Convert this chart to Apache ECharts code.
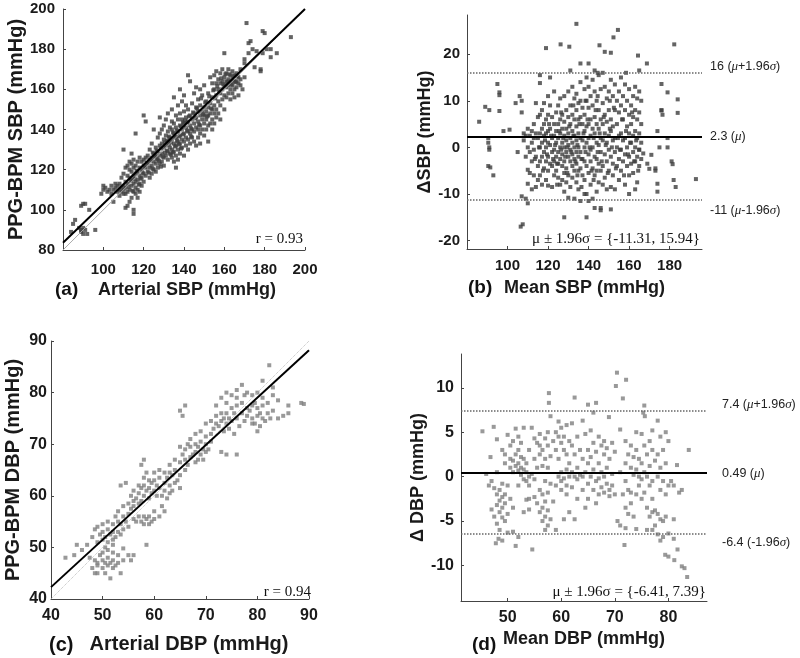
<!DOCTYPE html>
<html><head><meta charset="utf-8">
<script src="https://cdn.jsdelivr.net/npm/echarts@6/dist/echarts.min.js"></script>
<style>html,body{margin:0;padding:0;background:#fff}#c{width:800px;height:658px}</style>
</head><body><div id="c"></div>
<script>
// ---------- DATA ----------
const sbpScatter = [
[84,89],[85,93],[86,95],[88,91],[89,90],[89,89],[90,91],[90,88],[91,90],[92,88],[89,102],[90,103],[91,103],[93,100],[96,90],
[99,108],[100,110],[100,112],[101,111],[102,109],[103,110],[104,112],[104,108],[105,104],[105,110],[106,113],[106,111],[107,109],[107,112],[108,110],[108,113],[108,107],[109,111],[109,109],[109,116],[110,108],[110,110],[110,112],[110,118],[110,130],
[111,101],[111,108],[111,111],[111,114],[111,121],[112,102],[112,109],[112,113],[112,117],[112,122],[113,104],[113,110],[113,116],[113,120],[113,124],[114,106],[114,112],[114,115],[114,119],[114,123],[114,128],[115,98],[115,100],[115,109],[115,113],[115,117],[115,121],[115,125],[116,108],[116,111],[116,114],[116,118],[116,122],[116,138],[117,106],[117,110],[117,115],[117,119],[117,124],[118,109],[118,113],[118,117],[118,121],[118,126],[119,112],[119,116],[119,120],[119,124],[120,114],[120,118],[120,122],[120,125],[120,147],[121,144],
[121,117],[121,121],[121,126],[122,119],[122,123],[122,127],[123,116],[123,121],[123,125],[123,130],[124,118],[124,122],[124,126],[124,133],[125,120],[125,124],[125,128],[125,140],[126,119],[126,123],[126,127],[126,131],[127,121],[127,125],[127,129],[127,136],[128,123],[128,127],[128,132],[128,138],[128,146],[129,124],[129,128],[129,133],[129,140],[130,122],[130,126],[130,131],[130,135],[130,142],
[131,127],[131,132],[131,137],[131,145],[132,125],[132,129],[132,134],[132,139],[132,148],[133,128],[133,131],[133,136],[133,141],[134,126],[134,130],[134,135],[134,140],[134,144],[134,150],[135,124],[135,129],[135,133],[135,138],[135,143],[135,156],[136,121],[136,127],[136,132],[136,136],[136,141],[136,147],[137,125],[137,130],[137,134],[137,139],[137,145],[137,152],[138,128],[138,133],[138,137],[138,142],[138,148],[138,160],[139,131],[139,135],[139,140],[139,145],[139,154],[140,127],[140,134],[140,138],[140,143],[140,149],[140,157],
[141,132],[141,136],[141,141],[141,146],[141,152],[142,130],[142,135],[142,139],[142,144],[142,150],[142,167],[143,133],[143,138],[143,142],[143,147],[143,164],[144,136],[144,140],[144,145],[144,153],[145,134],[145,139],[145,143],[145,148],[145,158],[146,132],[146,141],[146,146],[146,151],[146,161],[147,136],[147,140],[147,144],[147,149],[147,155],[148,133],[148,138],[148,142],[148,147],[148,152],[148,160],[149,140],[149,145],[149,149],[149,157],[150,137],[150,143],[150,147],[150,151],[150,162],
[151,140],[151,145],[151,149],[151,154],[152,134],[152,142],[152,147],[152,151],[152,158],[153,143],[153,148],[153,153],[153,166],[154,140],[154,145],[154,150],[154,156],[154,163],[155,143],[155,148],[155,152],[155,160],[155,167],[156,146],[156,150],[156,157],[156,163],[156,169],[157,148],[157,154],[157,160],[157,165],[158,145],[158,152],[158,158],[158,163],[158,168],[159,155],[159,160],[159,164],[159,170],[160,150],[160,157],[160,162],[160,166],[160,178],
[161,156],[161,161],[161,164],[161,168],[162,158],[162,162],[162,165],[162,170],[163,155],[163,160],[163,164],[163,167],[164,158],[164,162],[164,165],[164,169],[165,156],[165,160],[165,164],[165,167],[166,161],[166,164],[166,168],[167,157],[167,163],[167,166],[168,162],[168,165],[168,170],[169,160],[170,166],[170,175],[170,173],
[171,193],[172,183],[172,178],[173,184],[174,180],[175,171],[176,179],[178,170],[178,169],[179,178],[179,189],[180,188],[181,180],[183,176],[183,180],[186,178],[193,186],
[112.5,111.5],[113.5,114.5],[114.5,109.5],[115.5,115.5],[116.5,119.5],[117.5,112.5],[118.5,115.5],[119.5,118.5],[120.5,121.5],[121.5,123.5],[122.5,118.5],[123.5,124.5],[124.5,120.5],[125.5,126.5],[126.5,129.5],[127.5,124.5],[128.5,130.5],[129.5,126.5],[130.5,133.5],[131.5,129.5],[132.5,136.5],[133.5,133.5],[134.5,138.5],[135.5,131.5],[136.5,139.5],[137.5,136.5],[138.5,141.5],[139.5,137.5],[140.5,144.5],[141.5,139.5],[142.5,146.5],[143.5,140.5],[144.5,148.5],[145.5,145.5],[146.5,150.5],[147.5,142.5],[148.5,155.5],[149.5,147.5],[150.5,153.5],[151.5,146.5],[152.5,156.5],[153.5,150.5],[154.5,159.5],[155.5,155.5],[156.5,161.5],[157.5,158.5],[158.5,165.5],[159.5,162.5],[160.5,167.5],[161.5,163.5],[162.5,167.5],[163.5,162.5],[164.5,166.5],[165.5,163.5],[166.5,166.5],[131.5,134.5],[133.5,127.5],[135.5,136.5],[137.5,132.5],[139.5,143.5],[128.5,121.5],[126.5,125.5],[124.5,128.5],[141.5,143.5],[143.5,136.5],[130.5,128.5],[132.5,132.5],[134.5,128.5],[136.5,134.5],[138.5,130.5]
];
const sbpBA = [
[86,5.5],[89,8.7],[91,8],[95,13.6],[96,11.8],[96,11.2],[96,7.8],[90.5,1],[91,0],[91,-0.5],[90.5,2],[90.5,-4],[91.5,-4.3],[93,-6],[98,3.5],[101,3.8],[104,9.5],[106,11],[107,10],[107,7.5],[107,-10.5],[109,-11],[110,-12],[106.5,-17],[107.5,-16.5],[105,-1],
[134,26.5],[154.5,25.2],[152.3,23.6],[182.3,22.1],[126.2,22.1],[119,21.3],[130.5,21.6],[145.4,21.9],[148,20.5],[151,20.3],[164.4,19.7],[168.8,18],[136,18],[140,18],[143,16.5],[144.5,16],[158.5,16],[165,16.5],[131,16.5],[116,15.5],[121,15],[176,13.6],[179,11.8],[176,8],[184,10.3],[184,7.4],[128,-15],[139,-15],[143,-13],[146,-13.5],[151,-13.3],[193,-6.8],[182,-7],[183,-8.5],[174,-7.8],[174,-9.5],[179,2],[179,0],[181,-3],[181.5,-3.6],[173,-4.5],[173,-5],[175,0],[174,3.5],[176,7.9],[176.5,7],[165,-0.5],[167,-1.3],[160,-10],[163,-9],[164,-7.5],[170,-4.6],[169,-3.5],[171,-1.6],
[108,3],[108,1.5],[109,2.5],[109,-2],[110,4],[110,0],[110,-4.8],[110,-7.8],[111,2.5],[111,-1],[111,-5.5],[112,3.5],[112,1],[112,-3],[112,-9],[113,5],[113,2],[113,-0.5],[113,-6],[114,9.5],[114,3],[114,-2],[114,-8.5],[115,6.5],[115,2],[115,-4],[115,-7],
[116,13.8],[116,7],[116,3],[116,0],[116,-3],[116,-6],[117,8],[117,4],[117,1],[117,-2],[117,-8],[118,9.5],[118,5],[118,2.5],[118,-1],[118,-4.5],[119,6],[119,3],[119,0],[119,-3],[119,-7],[120,11],[120,7],[120,3.5],[120,1],[120,-2],[120,-5],[120,-8.2],[121,9],[121,4],[121,0.5],[121,-3.5],[122,6.5],[122,2],[122,-1],[122,-4],[122,-8.5],
[123,12],[123,5],[123,2.5],[123,-0.5],[123,-3],[123,-6],[124,7.5],[124,3.5],[124,1],[124,-2],[124,-5],[125,9],[125,5],[125,2],[125,-1],[125,-3.5],[125,-6.5],[126,10.5],[126,6],[126,3],[126,0],[126,-2.5],[126,-8],[127,7],[127,4],[127,1],[127,-1.5],[127,-4],[127,-7],[128,11],[128,5.5],[128,2.5],[128,0],[128,-3],[128,-5.5],[128,-9.5],[129,8],[129,4],[129,1.5],[129,-1],[129,-4.5],[129,-7.5],[130,12],[130,6.5],[130,3],[130,0.5],[130,-2],[130,-6],[130,-10.8],
[131,9],[131,5],[131,2],[131,-0.5],[131,-3],[131,-8.5],[132,13],[132,7],[132,3.5],[132,1],[132,-1.5],[132,-4],[132,-6.5],[133,10.5],[133,6],[133,2.5],[133,0],[133,-2.5],[133,-5],[133,-11],[134,11.5],[134,8],[134,4.5],[134,1.5],[134,-1],[134,-3.5],[134,-7.5],[135,9.5],[135,6],[135,3],[135,0],[135,-2],[135,-5],[135,-9],[136,14],[136,10],[136,6.5],[136,2],[136,-1],[136,-4.5],[136,-11.5],[137,8.5],[137,5],[137,1.5],[137,-2.5],[137,-6],[138,12.5],[138,7],[138,3.5],[138,0],[138,-3],[138,-7],[138,-10],
[139,15],[139,10],[139,4.5],[139,1],[139,-4],[139,-10],[140,13],[140,8.5],[140,5],[140,2],[140,-1.5],[140,-5.5],[140,-11.5],[141,11],[141,6],[141,2.5],[141,-0.5],[141,-3],[141,-8],[142,14.5],[142,9],[142,4],[142,0],[142,-4.5],[142,-11],[143,12],[143,6.5],[143,3],[143,-2],[143,-6],[144,10],[144,5],[144,1],[144,-2.5],[144,-5],[144,-9.5],[145,15.5],[145,8],[145,4],[145,0.5],[145,-3.5],[145,-7.5],[146,12.5],[146,6],[146,2],[146,-1],[146,-5],[146,-13],
[147,16],[147,9.5],[147,5],[147,1.5],[147,-4],[147,-8],[148,13],[148,7],[148,3],[148,-1.5],[148,-6.5],[149,10.5],[149,5.5],[149,1],[149,-3],[149,-9],[150,12],[150,8],[150,2.5],[150,-0.5],[150,-5],[151,14.5],[151,6],[151,3.5],[151,-2],[151,-8.5],[152,11],[152,4.5],[152,1.5],[152,-3.5],[152,-6],[153,13.5],[153,8],[153,2],[153,-1],[153,-9],[154,10],[154,5],[154,0],[154,-4],[155,12],[155,7.5],[155,2.5],[155,-2.5],[155,-7],
[156,15],[156,9],[156,3],[156,-0.5],[156,-5],[157,11],[157,6],[157,1.5],[157,-3],[158,13.5],[158,8],[158,2],[158,-1.5],[158,-8],[159,10],[159,4.5],[159,0],[159,-4],[160,12.5],[160,7],[160,3],[160,-2],[160,-6],[161,9],[161,5],[161,1],[161,-3.5],[162,11],[162,6.5],[162,2.5],[162,-1],[162,-5.5],[163,13],[163,8],[163,3.5],[163,0],[163,-3],[164,10.5],[164,6],[164,2],[164,-2],[165,12],[165,7.5],[165,3],[165,-0.5],[165,-4],[166,10],[166,5],[166,1],[166,-2.5],
[118.5,1.5],[119.5,-1.5],[121.5,2.5],[122.5,-2.5],[123.5,0.5],[124.5,-3.5],[125.5,3.5],[126.5,-0.5],[127.5,2],[128.5,-2],[129.5,0],[130.5,4.5],[131.5,-1],[132.5,2.5],[133.5,-3],[134.5,0.5],[135.5,5],[136.5,-2.5],[137.5,3],[138.5,-1],[139.5,6],[140.5,0],[141.5,-5],[142.5,2],[143.5,8],[144.5,-1],[145.5,3],[146.5,-3],[147.5,6.5],[148.5,0.5],[149.5,-5.5],[150.5,4],[151.5,0],[152.5,8.5],[153.5,-4.5],[154.5,2],[155.5,-0.5],[156.5,6],[157.5,-6],[158.5,3.5],[159.5,-1.5],[160.5,1],[161.5,7.5],[162.5,-3],[163.5,1.5],[164.5,-5],[120.5,5],[126.5,7.5],[132.5,9],[138.5,10],[144.5,11],[150.5,10],[134.5,-6],[129.5,-5.5],[124.5,-8],[136.5,-8.5],[142.5,-7],[113.5,-2.5],[115.5,0],[117.5,-5]
];
const dbpScatter = [
[42.8,48],[44.5,48.5],[45,50.5],[46,49.5],[47,50.5],[47.5,48],[48,46],[48.5,45],[49,45],[58.5,50.5],[82.3,85.3],[88.5,78],[89,77.8],[86,77.5],[86,76],[85,75.5],[81,82.3],[83,81],[84,78.5],[80,72.5],[79,74],[76,68],[74,68],[73,68.5],[66,77.5],[65,76.5],[65.5,75.5],[58,67],[54.5,62.5],[53.5,62],[57.5,66],[63,64.5],
[49,47],[49.5,48.5],[50,46],[50,47.5],[50,49],[50.5,45],[50.5,47],[51,46.5],[51,48],[51,49.5],[51.5,44],[51.5,47],[52,46],[52,47.5],[52,49],[52.5,46.5],[53,47],[53,48.5],[53.5,45],[54,47.5],[55,48.5],[55.5,47.5],[56,48.5],[50.5,50],[52,50.5],[54,49.8],[49,46.5],[48.5,47.5],
[48,52],[48.5,53.5],[49,51],[49,54],[49.5,52.5],[50,51.5],[50,53],[50,54.5],[50.5,52],[51,51],[51,53.5],[51,55],[51.5,52.5],[52,51.5],[52,53],[52,54.5],[52.5,52],[52.5,56],[53,53],[53,55],[53,57],[53.5,52.5],[53.5,54.5],[54,53.5],[54,56],[54,58],[54.5,55],[55,54],[55,56.5],[55,58.5],[55.5,57.5],[56,55.5],[56,59],
[55.5,60],[56,58],[56,61],[56.5,59.5],[57,58.5],[57,60.5],[57,62],[57.5,59],[57.5,61.5],[58,60],[58,62],[58,63.5],[58.5,61],[58.5,64.5],[59,59.5],[59,61.5],[59,63],[59.5,60.5],[59.5,62.5],[60,61],[60,63],[60,64.5],[60.5,60],[60.5,62],[61,61.5],[61,63.5],[61,65],
[56.5,55],[57,56],[57.5,55],[58,54.5],[58,56],[58.5,55.5],[59,54.5],[59,56],[59.5,55],[60,55.5],[60,57],[61,56],[61.5,58],[62,57],
[61.5,60],[62,61],[62,62.5],[62,64.5],[62.5,59.5],[62.5,63.5],[63,60.5],[63,62],[63,66],[63.5,61],[63.5,64],[64,62.5],[64,65],[64,67],[64.5,63],[65,61.5],[65,64],[65,66.5],[65,69.5],[65.5,68],[66,65],[66,67],[66,69],[66.5,70],
[66.5,66],[67,67.5],[67,69.5],[67,71],[67.5,68],[68,66.5],[68,68.5],[68,70],[68,72],[68.5,67],[68.5,69.5],[69,68],[69,70.5],[69,72.5],[69.5,67],[69.5,69],[70,68.5],[70,70],[70,71.5],[70,74],[70.5,69],[71,70.5],[71,72],[71,74.5],
[71.5,73],[72,74],[72,75.5],[72,77.5],[72.5,73.5],[73,74.5],[73,76],[73,79],[73.5,72.5],[73.5,75],[74,74],[74,76],[74,78],[74,80],[74.5,75],[74.5,73],[75,74.5],[75,77],[75,79.5],[75.5,72],[75.5,76],[76,75],[76,77.5],[76,79],[76,80.5],[76.5,73.5],[77,76],[77,78],[77,81.5],[77.5,74.5],[77.5,79.5],[78,77],[78,80],[78,75.5],
[78.5,76.5],[79,75],[79,77.5],[79,79.5],[79.5,74],[79.5,78],[80,75.5],[80,77],[80,80],[80.5,73.5],[80.5,76],[81,75],[81,77.5],[81,79],[81.5,74.5],[82,76],[82,78],[82.5,75],[83,76.5],[83,79.5],[84,75]
];
const dbpBA = [
[70.4,11.7],[72.1,10.9],[70.2,10.2],[71.5,8.8],[57.7,9.4],[57.7,8.3],[62.5,8.9],[65,8.1],[66.5,8.3],[68.9,6.7],[75.5,8],[75.3,7.2],[75.6,6.8],[45.3,5.1],[47.4,5.6],[46.8,2.2],[54.6,-8.2],[51.5,-7.8],[47.8,-7.5],[48.3,-7],[79.4,-8.8],[80,-9],[81.1,-9.4],[81.7,-8.2],[82.5,-10.1],[83,-10.3],[83.5,-11.3],[83.8,3],[81.6,1.3],[71.8,-7.7],[70.5,-5],[71,-5.5],
[46,0.3],[46.5,-1],[47,-0.5],[47,-3.7],[47.5,-1.3],[47.5,-4.5],[48,0.5],[48,-2],[48,-3.2],[48,-5.3],[48.5,-1.5],[48.5,-2.7],[48.5,-4],[48.5,-6],[49,-0.8],[49,-2.3],[49,-3.5],[49,-4.6],[49,3],[49.5,-2],[49.5,-3],[49.5,-5],[49.5,1.5],[50,-1],[50,-4.2],[50,-6.3],[50,4.7],[49,-7.2],[48,4.2],[49.5,2.5],
[50.5,1],[50.5,2],[50.5,3.5],[51,0.5],[51,1.8],[51,4],[51,-6.2],[51.5,1.2],[51.5,2.5],[51.5,5.4],[52,0.7],[52,1.5],[52,3],[52,4.5],[52,-6.8],[52.5,0.2],[52.5,1],[52.5,2.2],[52.5,3.8],[53,-0.3],[53,0.8],[53,2],[53,5.5],[53.5,-0.5],[53.5,0.5],[53.5,1.5],[53.5,-2.6],[54,0],[54,-1],[54,3],[54,-2.5],[54.5,0.3],[54.5,5.5],[50.5,-2.5],[51,-3.5],[52,-1],[53,-4],[54,-3.7],
[55,4.3],[55,2],[55,-0.3],[55,-2.3],[55.5,3.8],[55.5,1],[55.5,-3],[56,3.5],[56,4.8],[56,2.5],[56,-1.5],[56,-4],[56.5,3],[56.5,1.2],[56.5,-2],[56.5,-3.5],[56.5,-5],[57,4.3],[57,2],[57,-0.5],[57,-2.8],[57,-4.5],[57,-6],[57.5,3.5],[57.5,5],[57.5,1],[57.5,-1.8],[57.5,-3.8],[57.5,-5.5],[58,6.8],[58,2.3],[58,-0.8],[58,-4.8],[58.5,4],[58.5,-2.8],[59,5],[59,3],[59,-6],[59,-1],
[59.5,4.5],[59.5,6.2],[59.5,2],[59.5,0],[60,3.8],[60,5.5],[60,0.5],[60,-0.5],[60,-1.5],[60.5,3],[60.5,4.5],[60.5,-0.2],[60.5,-4.8],[61,2.5],[61,5.8],[61,0.8],[61,-1],[61,-2],[61.5,4],[61.5,1.5],[61.5,0],[61.5,-4],[62,3.5],[62,6],[62,0.5],[62,-1.2],[62.5,2.5],[62.5,0],[62.5,-4.8],[63,4.5],[63,1],[63,-0.3],[63,-2.5],[63.5,3],[63.5,0.2],[64,2],[64,6.3],[64,0],[64,-1.5],
[64.5,4.8],[64.5,0.5],[64.5,-3.5],[65,3],[65,1.5],[65,-0.8],[65,-2.5],[65.5,5.2],[65.5,2.2],[65.5,0],[66,3.8],[66,7.2],[66,0.8],[66,-1.5],[66.5,2.8],[66.5,-0.5],[66.5,-3],[67,4.5],[67,1.5],[67,-0.2],[67,-2],[67.5,3.5],[67.5,0.5],[67.5,-1.2],[68,2.5],[68,4],[68,0],[68,-1.8],[68.5,3.2],[68.5,1],[68.5,-0.8],[69,2],[69,-1.5],[69,-2.2],[69.5,3.8],[69.5,0.3],[69.5,-1],[70,2.8],[70,-2],
[71,5.3],[71,0.5],[71.5,-2],[72,4],[72,1.5],[72,-0.5],[72,-3.5],[72,-5.8],[72.5,2.5],[72.5,-1.5],[72.5,-4.2],[73,3.5],[73,1],[73,-1.8],[73,-3],[73.5,2.2],[73.5,0.2],[73.5,-4.5],[74,5],[74,3],[74,0.8],[74,-2],[74,-5.9],[74.5,2],[74.5,0],[74.5,-1],[75,4.8],[75,1.5],[75,-0.3],[75,-2.5],[75.5,3.5],[75.5,0.5],[75.5,-1.8],[76,2.5],[76,0],[76,-3.5],[76,-6],
[76.5,4],[76.5,1.2],[76.5,-1],[76.5,-4.5],[77,5.2],[77,3],[77,-0.5],[77,-2.5],[77,-4],[77,-6],[77.5,1.8],[77.5,-3.8],[77.5,-5.5],[78,6.3],[78,2.5],[78,0],[78,-4.2],[78,-6.5],[78.5,4.5],[78.5,1],[78.5,-1.5],[78.5,-4.8],[78.5,-7.2],[79,3],[79,-0.5],[79,-5],[79,-6.8],[79.5,5],[79.5,1.5],[79.5,-2],[79.5,-4.5],[80,4],[80,-1],[80,-6.4],[80.5,-0.5],[81,-1],[81,-4.8],[82,-1.8],[82.5,-1.5],[81,-7]
];
const sbpFit = [[80,83.6],[200,200]];
const sbpIdentity = [[80,80],[200,200]];
const dbpFit = [[40,42.3],[90,88.2]];
const dbpIdentity = [[40,40],[90,90]];
const sbpLimitValues = [15.94, 2.3, -11.31];
const sbpLimitLabels = ['16 ({i|μ}+1.96{i|σ})', '2.3 ({i|μ})', '-11 ({i|μ}-1.96{i|σ})'];
const dbpLimitValues = [7.39, 0.49, -6.41];
const dbpLimitLabels = ['7.4 ({i|μ}+1.96{i|σ})', '0.49 ({i|μ})', '-6.4 (-1.96{i|σ})'];
const sbpBATicksY = [-20, -10, 0, 10, 20];
const sbpBATicksX = [100, 120, 140, 160, 180];
const dbpBATicksY = [-10, -5, 0, 5, 10];
const dbpBATicksX = [50, 60, 70, 80];
const texts = {
  rA: 'r = 0.93', rC: 'r = 0.94',
  loaB: 'μ ± 1.96σ = {-11.31, 15.94}', loaD: 'μ ± 1.96σ = {-6.41, 7.39}'
};

// ---------- CHART ----------
const SANS = '"Liberation Sans", Arial, Helvetica, sans-serif';
const SERIF = '"Liberation Serif", "Times New Roman", serif';
const chart = echarts.init(document.getElementById('c'), null, {renderer: 'canvas'});

function ax(opt) {
  const base = {
    type: 'value', scale: false,
    axisLine: {show: true, onZero: false, lineStyle: {color: '#444', width: 1}},
    axisTick: {show: true, inside: true, length: 3, lineStyle: {color: '#444'}},
    splitLine: {show: false},
    nameLocation: 'middle',
    axisLabel: {color: '#1a1a1a', fontFamily: SANS, fontWeight: 'bold', fontSize: opt.fs || 15, margin: opt.margin},
    nameTextStyle: {color: '#1a1a1a', fontFamily: SANS, fontWeight: 'bold', fontSize: opt.nfs || 18, padding: opt.npad || 0}
  };
  return Object.assign(base, opt.extra || {});
}

function limitLines(values, labels, pads, dist) {
  return {
    silent: true, symbol: ['none', 'none'],
    data: values.map((v, i) => ({
      yAxis: v,
      lineStyle: i === 1 ? {color: '#000', width: 2, type: 'solid'} : {color: '#666', width: 1.5, type: 'dotted'},
      label: {
        show: true, position: 'end', distance: dist, formatter: labels[i],
        color: '#222', fontFamily: SANS, fontSize: 12.5, padding: pads[i],
        rich: {i: {fontStyle: 'italic', fontFamily: SERIF, fontSize: 13, color: '#222'}}
      }
    }))
  };
}

const option = {
  animation: false,
  backgroundColor: '#fff',
  grid: [
    {left: 63, top: 9, width: 242, height: 241},
    {left: 467, top: 15, width: 235, height: 234},
    {left: 51, top: 341, width: 258, height: 258},
    {left: 461, top: 354, width: 246, height: 247}
  ],
  xAxis: [
    ax({fs: 15, margin: 12, nfs: 18, npad: [0, 0, 0, 6], extra: {gridIndex: 0, min: 80, max: 200, interval: 20, name: 'Arterial SBP (mmHg)', nameGap: 31}}),
    ax({fs: 15, margin: 9, nfs: 18, extra: {gridIndex: 1, min: 80, max: 196, name: 'Mean SBP (mmHg)', nameGap: 30}}),
    ax({fs: 16, margin: 9, nfs: 20, npad: [0, 0, 0, 18], extra: {gridIndex: 2, min: 40, max: 90, interval: 10, name: 'Arterial DBP (mmHg)', nameGap: 35}}),
    ax({fs: 16, margin: 9, nfs: 18, extra: {gridIndex: 3, min: 41.3, max: 87.2, name: 'Mean DBP (mmHg)', nameGap: 29}})
  ],
  yAxis: [
    ax({fs: 15, margin: 8, nfs: 20, extra: {gridIndex: 0, min: 80, max: 200, interval: 20, name: 'PPG-BPM SBP (mmHg)', nameGap: 34}}),
    ax({fs: 15, margin: 7, nfs: 18, extra: {gridIndex: 1, min: -21.8, max: 28.4, name: 'ΔSBP (mmHg)', nameGap: 32}}),
    ax({fs: 16, margin: 4, nfs: 20, extra: {gridIndex: 2, min: 40, max: 90, interval: 10, name: 'PPG-BPM DBP (mmHg)', nameGap: 28}}),
    ax({fs: 16, margin: 7, nfs: 18, extra: {gridIndex: 3, min: -14, max: 13.8, name: 'Δ DBP (mmHg)', nameGap: 31}})
  ],
  graphic: [],
  series: []
};
option.xAxis[0].axisLabel.showMinLabel = false;
option.xAxis[1].axisLabel.customValues = sbpBATicksX;
option.xAxis[1].axisTick.customValues = sbpBATicksX;
option.yAxis[1].axisLabel.customValues = sbpBATicksY;
option.yAxis[1].axisTick.customValues = sbpBATicksY;
option.xAxis[3].axisLabel.customValues = dbpBATicksX;
option.xAxis[3].axisTick.customValues = dbpBATicksX;
option.yAxis[3].axisLabel.customValues = dbpBATicksY;
option.yAxis[3].axisTick.customValues = dbpBATicksY;

const dark = '#3d3d3d', light = '#808080';
option.series.push(
  {type: 'scatter', xAxisIndex: 0, yAxisIndex: 0, data: sbpScatter, symbol: 'rect', symbolSize: 4, itemStyle: {color: dark}, z: 2},
  {type: 'line', xAxisIndex: 0, yAxisIndex: 0, data: sbpIdentity, symbol: 'none', lineStyle: {color: '#aaa', width: 1}, z: 3},
  {type: 'line', xAxisIndex: 0, yAxisIndex: 0, data: sbpFit, symbol: 'none', lineStyle: {color: '#000', width: 2}, z: 4},
  {type: 'scatter', xAxisIndex: 1, yAxisIndex: 1, data: sbpBA, symbol: 'rect', symbolSize: 4, itemStyle: {color: dark}, z: 2,
   markLine: limitLines(sbpLimitValues, sbpLimitLabels, [[0, 0, 13, 0], [0, 0, 0, 0], [20, 0, 0, 0]], 8)},
  {type: 'scatter', xAxisIndex: 2, yAxisIndex: 2, data: dbpScatter, symbol: 'rect', symbolSize: 4, itemStyle: {color: light}, z: 2},
  {type: 'line', xAxisIndex: 2, yAxisIndex: 2, data: dbpIdentity, symbol: 'none', lineStyle: {color: '#bbb', width: 1, type: 'dotted'}, z: 3},
  {type: 'line', xAxisIndex: 2, yAxisIndex: 2, data: dbpFit, symbol: 'none', lineStyle: {color: '#000', width: 2}, z: 4},
  {type: 'scatter', xAxisIndex: 3, yAxisIndex: 3, data: dbpBA, symbol: 'rect', symbolSize: 4, itemStyle: {color: light}, z: 2,
   markLine: limitLines(dbpLimitValues, dbpLimitLabels, [[0, 0, 13, 0], [3, 0, 0, 0], [18, 0, 0, 0]], 15)}
);

function txt(x, y, text, font, size, align, weight) {
  return {type: 'text', x: x, y: y, z: 10, style: {text: text, fill: '#111', font: (weight || 'normal') + ' ' + size + 'px ' + font, align: align, verticalAlign: 'middle'}};
}
option.graphic = [
  txt(303, 239, texts.rA, SERIF, 15, 'right'),
  txt(311, 592, texts.rC, SERIF, 15, 'right'),
  txt(700, 239, texts.loaB, SERIF, 15, 'right'),
  txt(706, 592, texts.loaD, SERIF, 15, 'right'),
  txt(55, 290, '(a)', SANS, 19, 'left', 'bold'),
  txt(468, 288, '(b)', SANS, 19, 'left', 'bold'),
  txt(49, 645, '(c)', SANS, 20, 'left', 'bold'),
  txt(472, 645, '(d)', SANS, 19, 'left', 'bold')
];

chart.setOption(option);
</script></body></html>
